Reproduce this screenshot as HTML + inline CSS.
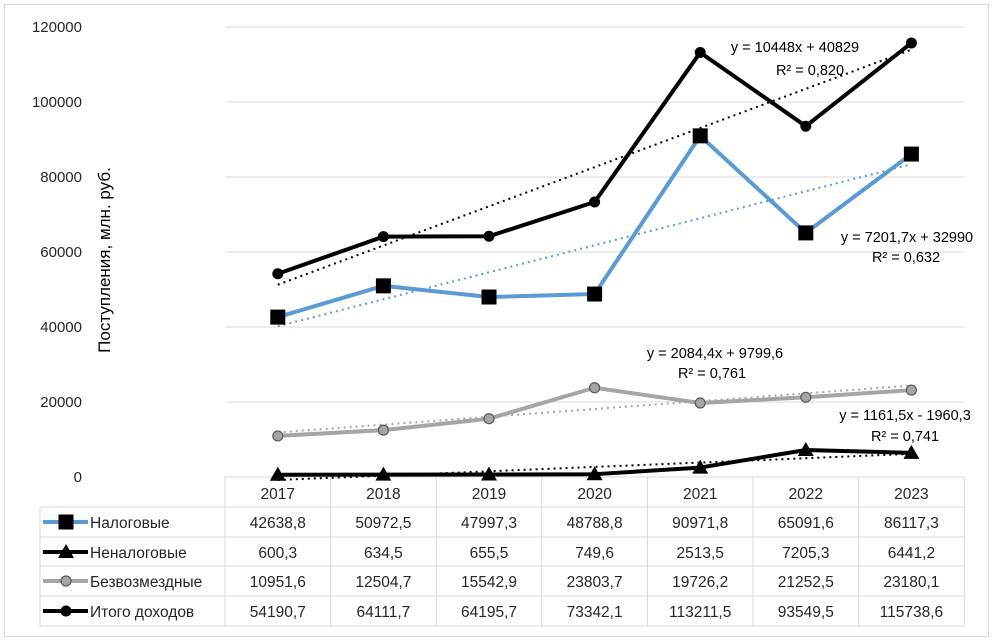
<!DOCTYPE html>
<html><head><meta charset="utf-8"><style>
body{margin:0;background:#fff}
svg{display:block;font-family:"Liberation Sans",sans-serif}
</style></head><body>
<svg width="993" height="643" viewBox="0 0 993 643">
<rect x="4.5" y="4.5" width="984" height="632" fill="#fff" stroke="#d9d9d9"/>
<g id="grid"></g>
<g id="ylab" font-size="15" fill="#262626" text-anchor="end"></g>
<text transform="translate(110,260) rotate(-90)" text-anchor="middle" font-size="17" fill="#000">Поступления, млн. руб.</text>
<g id="table"></g>
<g id="series"></g>
<g font-size="14.5" fill="#000" text-anchor="middle">
<text x="795" y="52">y = 10448x + 40829</text>
<text x="810" y="75">R² = 0,820</text>
<text x="907" y="242">y = 7201,7x + 32990</text>
<text x="906" y="262">R² = 0,632</text>
<text x="715" y="358">y = 2084,4x + 9799,6</text>
<text x="712" y="378">R² = 0,761</text>
<text x="905" y="420">y = 1161,5x - 1960,3</text>
<text x="905" y="441">R² = 0,741</text>
</g>
</svg>
<script>
const years=["2017","2018","2019","2020","2021","2022","2023"];
const tax=[42638.8,50972.5,47997.3,48788.8,90971.8,65091.6,86117.3];
const nontax=[600.3,634.5,655.5,749.6,2513.5,7205.3,6441.2];
const grants=[10951.6,12504.7,15542.9,23803.7,19726.2,21252.5,23180.1];
const total=[54190.7,64111.7,64195.7,73342.1,113211.5,93549.5,115738.6];
const yTicks=[0,20000,40000,60000,80000,100000,120000];
const seriesNames=["Налоговые","Неналоговые","Безвозмездные","Итого доходов"];
const NS="http://www.w3.org/2000/svg";
const X0=225,CW=105.6,Y0=477,YT=27;
const xs=i=>X0+CW*(i+0.5);
const ys=v=>Y0-(v/120000)*(Y0-YT);
function mk(tag,attrs,parent){const e=document.createElementNS(NS,tag);for(const k in attrs)e.setAttribute(k,attrs[k]);parent.appendChild(e);return e;}
const grid=document.getElementById('grid'),ylab=document.getElementById('ylab');
yTicks.forEach(t=>{
 if(t>0){const l=mk('line',{x1:X0,x2:X0+7*CW,y1:ys(t),y2:ys(t),stroke:'#d9d9d9'},grid);
 
 }
 const tx=mk('text',{x:82,y:ys(t)+5},ylab);tx.textContent=t;
 
 
});
const tb=document.getElementById('table');
const rows=[507,537,566,596,626];
const tl=40,tr=X0+7*CW;
mk('line',{x1:X0,x2:tr,y1:Y0,y2:Y0,stroke:'#d9d9d9'},tb);
rows.forEach(r=>mk('line',{x1:tl,x2:tr,y1:r,y2:r,stroke:'#d9d9d9'},tb));
mk('line',{x1:tl,x2:tl,y1:507,y2:626,stroke:'#d9d9d9'},tb);
for(let i=0;i<=7;i++)mk('line',{x1:X0+i*CW,x2:X0+i*CW,y1:Y0,y2:626,stroke:'#d9d9d9'},tb);
years.forEach((y,i)=>{const t=mk('text',{x:xs(i),y:499,'text-anchor':'middle','font-size':15.5,fill:'#262626'},tb);t.textContent=y;
 
 });
const all=[tax,nontax,grants,total];
const fmt=v=>v.toFixed(1).replace('.',',');
all.forEach((arr,r)=>{
 const cy=rows[r]+21;
 arr.forEach((v,i)=>{const t=mk('text',{x:xs(i),y:cy,'text-anchor':'middle','font-size':15.5,fill:'#262626'},tb);t.textContent=fmt(v);
 
 });
 const n=mk('text',{x:90,y:cy,'font-size':15.5,fill:'#262626'},tb);n.textContent=seriesNames[r];
 
 
});
const keyY=rows.map(r=>r+15);
const colors=['#5b9bd5','#000','#a5a5a5','#000'];
colors.forEach((c,r)=>mk('line',{x1:43,x2:88,y1:keyY[r],y2:keyY[r],stroke:c,'stroke-width':4},tb));
function marker(type,x,y,p){
 if(type==0)mk('rect',{x:x-7.5,y:y-7.5,width:15,height:15,fill:'#000'},p);
 else if(type==1)mk('polygon',{points:`${x},${y-8} ${x+8},${y+6} ${x-8},${y+6}`,fill:'#000'},p);
 else if(type==2)mk('circle',{cx:x,cy:y,r:5,fill:'#a5a5a5',stroke:'#595959','stroke-width':1.2},p);
 else mk('circle',{cx:x,cy:y,r:5.5,fill:'#000'},p);
}
[0,1,2,3].forEach(r=>{const g=mk('g',{},tb);marker(r,66,keyY[r],g);});
const sg=document.getElementById('series');
function trend(arr){const n=arr.length;let sx=0,sy=0,sxy=0,sxx=0;arr.forEach((v,i)=>{const x=i+1;sx+=x;sy+=v;sxy+=x*v;sxx+=x*x;});const a=(n*sxy-sx*sy)/(n*sxx-sx*sx);return [a,(sy-a*sx)/n];}
const trendCol=['#5b9bd5','#000','#a5a5a5','#000'];
const names=['tax','nontax','grants','total'];
all.forEach((arr,r)=>{
 const [a,b]=trend(arr);
 const tline=mk('line',{x1:xs(0),y1:ys(a+b),x2:xs(6),y2:ys(7*a+b),stroke:trendCol[r],'stroke-width':2,'stroke-dasharray':'2 4'},sg);
 
 
});
all.forEach((arr,r)=>{
 const g=mk('g',{},sg);
 
 
 mk('polyline',{points:arr.map((v,i)=>xs(i)+','+ys(v)).join(' '),fill:'none',stroke:colors[r],'stroke-width':4,'stroke-linejoin':'round'},g);
 arr.forEach((v,i)=>marker(r,xs(i),ys(v),g));
});
</script>
</body></html>
